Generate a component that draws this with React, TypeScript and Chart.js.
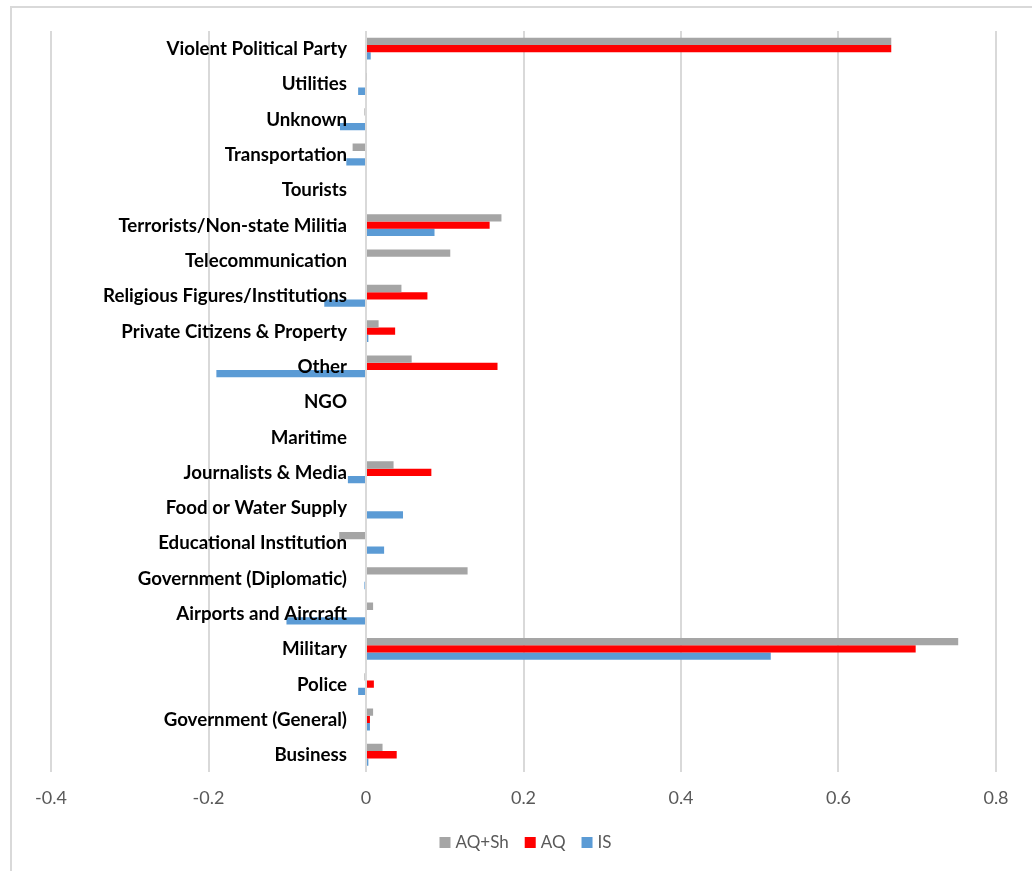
import React, { useEffect, useRef } from "react";
import { Chart, registerables } from "chart.js";

Chart.register(...registerables);

const categories = [
  "Violent Political Party",
  "Utilities",
  "Unknown",
  "Transportation",
  "Tourists",
  "Terrorists/Non-state Militia",
  "Telecommunication",
  "Religious Figures/Institutions",
  "Private Citizens & Property",
  "Other",
  "NGO",
  "Maritime",
  "Journalists & Media",
  "Food or Water Supply",
  "Educational Institution",
  "Government (Diplomatic)",
  "Airports and Aircraft",
  "Military",
  "Police",
  "Government (General)",
  "Business",
];

const aqShValues = [
  0.667, 0.001, -0.002, -0.017, 0, 0.172, 0.107, 0.045, 0.016, 0.058, 0, 0,
  0.035, 0, -0.034, 0.129, 0.009, 0.752, -0.002, 0.009, 0.021,
];
const aqValues = [
  0.667, 0, 0, 0, 0, 0.157, 0, 0.078, 0.037, 0.167, 0, 0, 0.083, 0, 0, 0, 0,
  0.698, 0.01, 0.005, 0.039,
];
const isValues = [
  0.006, -0.01, -0.033, -0.025, 0, 0.087, 0, -0.053, 0.003, -0.19, 0, 0,
  -0.023, 0.047, 0.023, -0.002, -0.101, 0.514, -0.01, 0.005, 0.003,
];

const seriesNames = ["AQ+Sh", "AQ", "IS"];
const seriesColors = ["#A5A5A5", "#FF0000", "#5B9BD5"];
const xTicks = [-0.4, -0.2, 0, 0.2, 0.4, 0.6, 0.8];

const framePlugin = {
  id: "frame",
  beforeDraw(chart: any) {
    const ctx = chart.ctx;
    ctx.save();
    ctx.strokeStyle = "#D9D9D9";
    ctx.lineWidth = 2;
    ctx.beginPath();
    ctx.moveTo(11, chart.height);
    ctx.lineTo(11, 7);
    ctx.lineTo(chart.width, 7);
    ctx.stroke();
    ctx.restore();
  },
};

const categoryLabelPlugin = {
  id: "categoryLabels",
  afterDatasetsDraw(chart: any) {
    const ctx = chart.ctx;
    const xs = chart.scales.x;
    const ys = chart.scales.y;
    const x0 = xs.getPixelForValue(0) - 19;
    ctx.save();
    ctx.font = "bold 18.7px Lato";
    ctx.fillStyle = "#000000";
    ctx.textAlign = "right";
    ctx.textBaseline = "middle";
    (chart.data.labels as string[]).forEach((label, i) => {
      ctx.fillText(label, x0, ys.getPixelForValue(i) + 0.5);
    });
    ctx.restore();
  },
};

const legendPlugin = {
  id: "bottomLegend",
  afterDraw(chart: any) {
    const ctx = chart.ctx;
    const box = 11;
    const gapText = 5;
    const gapItem = 16;
    ctx.save();
    ctx.font = "17px Lato";
    ctx.textBaseline = "middle";
    ctx.textAlign = "left";
    const items = chart.data.datasets.map((d: any) => ({
      text: d.label,
      color: d.backgroundColor,
      w: ctx.measureText(d.label).width,
    }));
    const total =
      items.reduce((s: number, it: any) => s + box + gapText + it.w, 0) +
      gapItem * (items.length - 1);
    const cx = (chart.chartArea.left + chart.chartArea.right) / 2 + 2;
    let x = cx - total / 2;
    const y = 842.5;
    items.forEach((it: any) => {
      ctx.fillStyle = it.color;
      ctx.fillRect(x, y - box / 2, box, box);
      x += box + gapText;
      ctx.fillStyle = "#595959";
      ctx.fillText(it.text, x, y);
      x += it.w + gapItem;
    });
    ctx.restore();
  },
};

export default function App() {
  const ref = useRef<HTMLCanvasElement | null>(null);

  useEffect(() => {
    if (!ref.current) return;
    const chart = new Chart(ref.current, {
      type: "bar",
      data: {
        labels: categories,
        datasets: [
          { label: seriesNames[0], data: aqShValues, backgroundColor: seriesColors[0] },
          { label: seriesNames[1], data: aqValues, backgroundColor: seriesColors[1] },
          { label: seriesNames[2], data: isValues, backgroundColor: seriesColors[2] },
        ],
      },
      options: {
        indexAxis: "y",
        responsive: false,
        animation: false,
        datasets: {
          bar: { categoryPercentage: 0.62, barPercentage: 1.0, borderWidth: 0 },
        },
        layout: { padding: { left: 51, right: 36, top: 31, bottom: 47 } },
        scales: {
          x: {
            min: -0.4,
            max: 0.8,
            afterBuildTicks: (scale: any) => {
              scale.ticks = xTicks.map((v) => ({ value: v }));
            },
            grid: { color: "#D9D9D9", lineWidth: 2, drawTicks: false },
            border: { display: false },
            ticks: {
              padding: 15,
              color: "#595959",
              font: { family: "Lato", size: 18 },
              callback: (v: any) => String(Math.round(Number(v) * 10) / 10),
            },
          },
          y: { display: false },
        },
        plugins: {
          legend: { display: false },
          tooltip: { enabled: false },
        },
      },
      plugins: [framePlugin, categoryLabelPlugin, legendPlugin],
    });
    return () => chart.destroy();
  }, []);

  return (
    <div style={{ position: "fixed", left: 0, top: 0, width: 1032, height: 871, background: "#fff" }}>
      <canvas ref={ref} width={1032} height={871} />
    </div>
  );
}
